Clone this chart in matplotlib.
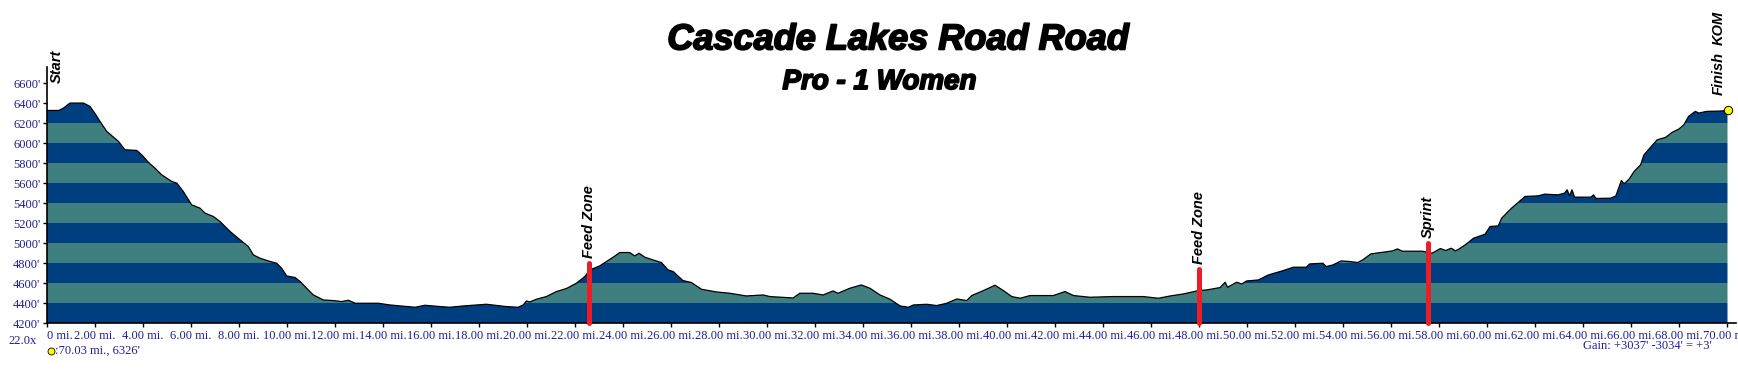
import numpy as np
import matplotlib.pyplot as plt
import matplotlib.patheffects as pe
from matplotlib.patches import Polygon
from matplotlib.transforms import ScaledTranslation

# course profile (miles, feet)
miles = [0.0, 0.5, 0.7, 0.97, 1.53, 1.8, 2.0, 2.22, 2.5, 2.99, 3.26, 3.75, 3.96, 4.24, 4.51,
         4.79, 5.21, 5.42, 5.69, 6.04, 6.39, 6.6, 6.94, 7.22, 7.64, 8.06, 8.4, 8.61, 8.89,
         9.31, 9.58, 9.79, 10.0, 10.35, 10.56, 10.83, 11.11, 11.53, 11.94, 12.29, 12.57,
         12.85, 13.82, 14.3, 15.0, 15.35, 15.76, 16.39, 16.79, 17.35, 18.32, 19.15, 19.64,
         19.85, 19.99, 20.13, 20.4, 20.82, 21.24, 21.65, 22.07, 22.42, 22.63, 23.04, 23.32,
         23.6, 23.88, 24.29, 24.5, 24.68, 24.92, 25.26, 25.61, 25.89, 26.1, 26.51, 26.86,
         27.28, 27.9, 28.46, 29.15, 29.85, 30.13, 31.1, 31.38, 31.93, 32.35, 32.76, 32.97,
         33.46, 33.94, 34.3, 34.72, 35.14, 35.56, 35.9, 36.11, 36.67, 37.08, 37.5, 37.92,
         38.33, 38.54, 39.03, 39.51, 39.86, 40.21, 40.56, 40.97, 41.94, 42.43, 42.78, 43.47,
         44.44, 45.69, 46.32, 46.81, 47.36, 47.99, 48.33, 48.89, 49.1, 49.2, 49.58, 49.79,
         50.0, 50.49, 50.9, 51.53, 51.94, 52.48, 52.62, 53.17, 53.31, 53.59, 53.93, 54.28,
         54.62, 54.83, 55.17, 55.59, 56.07, 56.28, 56.48, 57.31, 57.72, 58.07, 58.28, 58.52,
         58.69, 58.83, 59.1, 59.45, 59.93, 60.14, 60.48, 60.62, 61.03, 61.31, 61.59, 62.14,
         62.41, 62.97, 63.24, 63.35, 63.45, 63.55, 63.66, 64.34, 64.45, 64.55, 65.17, 65.38,
         65.52, 65.61, 65.72, 65.93, 66.14, 66.41, 66.55, 66.83, 67.1, 67.45, 67.72, 68.0,
         68.21, 68.41, 68.69, 68.83, 69.17, 69.72, 70.03]
elev = [6326, 6326, 6350, 6400, 6400, 6367, 6300, 6217, 6117, 6017, 5933, 5927, 5883, 5807, 5750,
        5683, 5617, 5600, 5517, 5383, 5350, 5300, 5267, 5217, 5117, 5033, 4967, 4883, 4850,
        4817, 4800, 4750, 4673, 4657, 4617, 4550, 4483, 4433, 4427, 4417, 4430,
        4400, 4400, 4383, 4367, 4360, 4380, 4367, 4360, 4373, 4390, 4367, 4360,
        4383, 4423, 4413, 4440, 4467, 4517, 4547, 4600, 4667, 4733, 4773, 4817,
        4860, 4907, 4907, 4873, 4900, 4860, 4833, 4807, 4733, 4717, 4627, 4607,
        4540, 4513, 4500, 4473, 4483, 4467, 4453, 4500, 4500, 4483, 4523, 4500,
        4550, 4583, 4550, 4483, 4440, 4373, 4360, 4383, 4390, 4377, 4400, 4443,
        4427, 4477, 4527, 4580, 4527, 4467, 4450, 4477, 4477, 4517, 4477, 4460,
        4467, 4467, 4450, 4473, 4493, 4527, 4533, 4557, 4610, 4560, 4610, 4593,
        4623, 4633, 4683, 4727, 4760, 4760, 4793, 4800, 4767, 4783, 4823, 4817,
        4807, 4833, 4893, 4907, 4923, 4943, 4920, 4920, 4900, 4947, 4927, 4950,
        4923, 4940, 4983, 5050, 5090, 5167, 5173, 5250, 5350, 5407, 5467, 5473,
        5490, 5483, 5500, 5533, 5473, 5533, 5460, 5460, 5483, 5447, 5450, 5473,
        5567, 5627, 5593, 5640, 5717, 5783, 5883, 5960, 6033, 6057, 6107, 6140,
        6183, 6267, 6317, 6300, 6317, 6320, 6326]

# course markers: mile, top of red flag (ft), label
mark_mi = [22.6, 47.99, 57.56]
mark_top = [4800, 4740, 5000]
mark_names = ["Feed Zone", "Feed Zone", "Sprint"]

# end labels: mile, bottom of text (ft), label
end_mi = [0.43, 69.65, 69.65]
end_base = [6603, 6483, 6983]
end_names = ["Start", "Finish", "KOM"]

y_ticks = list(range(4200, 6601, 200))
x_ticks = list(range(0, 71, 2))

BLUE = '#003F7F'
TEAL = '#407F7F'
TICKC = '#1E1E96'

fig = plt.figure(figsize=(17.38, 3.73), dpi=100)
ax = fig.add_axes([0.02687, 0.1333, 0.9722, 0.687])
ax.set_xlim(0, 70.4)
ax.set_ylim(4200, 6760)

# striped fill clipped to the profile
verts = list(zip(miles, elev)) + [(miles[-1], 4200), (miles[0], 4200)]
poly = Polygon(verts, closed=True, facecolor='none', edgecolor='none')
ax.add_patch(poly)
for i, lo in enumerate(range(4200, 6800, 200)):
    band = ax.axhspan(lo, lo + 200, color=BLUE if i % 2 == 0 else TEAL, lw=0, zorder=1)
    band.set_clip_path(poly)
ax.plot(miles, elev, color='black', lw=0.9, zorder=3)

# red markers and their labels
for m, top, name in zip(mark_mi, mark_top, mark_names):
    ax.plot([m, m], [4200, top], color='#EE1C24', lw=3.6, solid_capstyle='round', zorder=4,
            clip_on=False)
    ax.annotate(name, (m, top), xytext=(0, 4), textcoords='offset points', rotation=90,
                ha='center', va='bottom', fontsize=10.5, fontweight='bold', style='italic',
                family='Liberation Sans', zorder=5, annotation_clip=False)

for m, b, name in zip(end_mi, end_base, end_names):
    ax.text(m, b, name, rotation=90, ha='center', va='bottom', fontsize=10.5,
            fontweight='bold', style='italic', family='Liberation Sans', clip_on=False)

ax.plot([miles[-1]], [elev[-1]], 'o', ms=6, mfc='#FFFF00', mec='black', mew=0.7, zorder=6,
        clip_on=False)

# axes styling
for s in ['top', 'right']:
    ax.spines[s].set_visible(False)
ax.spines['left'].set_linewidth(1.2)
ax.spines['bottom'].set_linewidth(1.2)
ax.set_yticks(y_ticks, [f"{v}'" for v in y_ticks])
ax.set_xticks(x_ticks, ["0 mi."] + [f"{v:.2f} mi." for v in x_ticks[1:]])
first = ax.get_xticklabels()[0]
first.set_horizontalalignment('left')
first.set_transform(first.get_transform() + ScaledTranslation(-3 / 72, 0, fig.dpi_scale_trans))
ax.tick_params(length=3, width=1, pad=1.5, labelsize=9, labelcolor=TICKC)
for lab in ax.get_xticklabels() + ax.get_yticklabels():
    lab.set_family('Liberation Serif')

# titles
stroke = [pe.withStroke(linewidth=1.3, foreground='black')]
fig.text(0.517, 0.893, "Cascade Lakes Road Road", ha='center', va='center', fontsize=26,
         fontweight='bold', style='italic', family='Liberation Sans', path_effects=stroke)
fig.text(0.506, 0.78, "Pro - 1 Women", ha='center', va='center', fontsize=20,
         fontweight='bold', style='italic', family='Liberation Sans', path_effects=stroke)

# footer notes
fig.text(0.0132, 0.087, "22.0x", ha='center', va='center', fontsize=9, color=TICKC,
         family='Liberation Serif')
fig.lines.append(plt.Line2D([0.0295], [0.06], marker='o', ms=5, mfc='#FFFF00', mec='black',
                            mew=0.6, transform=fig.transFigure))
fig.text(0.0315, 0.06, ":70.03 mi., 6326'", ha='left', va='center', fontsize=9, color=TICKC,
         family='Liberation Serif')
fig.text(0.985, 0.072, "Gain: +3037' -3034' = +3'", ha='right', va='center', fontsize=9,
         color=TICKC, family='Liberation Serif')

fig.savefig('out.png', dpi=100)
